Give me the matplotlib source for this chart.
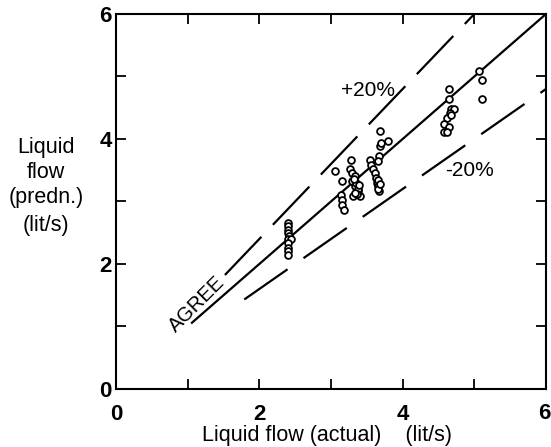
import matplotlib
matplotlib.use('Agg')
import matplotlib.pyplot as plt
import numpy as np

# ── Data: actual vs predicted liquid flow (lit/s) ─────────────────
actual = [
    2.40, 2.40, 2.40, 2.40, 2.42, 2.40, 2.44, 2.40, 2.40, 2.40, 2.40,
    3.06, 3.15, 3.14, 3.16, 3.16, 3.18,
    3.28, 3.27, 3.29, 3.30, 3.34, 3.33, 3.31, 3.40, 3.37, 3.35, 3.32, 3.38,
    3.36, 3.33, 3.39,
    3.55, 3.56, 3.58, 3.61, 3.63, 3.64, 3.66, 3.67, 3.65, 3.68, 3.70, 3.67,
    3.68, 3.79, 3.65, 3.66, 3.68,
    4.64, 4.64, 4.68, 4.72, 4.66, 4.62, 4.58, 4.65, 4.57, 4.62, 4.68,
    5.07, 5.11, 5.11,
]
predicted = [
    2.65, 2.60, 2.55, 2.50, 2.45, 2.40, 2.40, 2.33, 2.25, 2.20, 2.15,
    3.49, 3.32, 3.10, 3.02, 2.94, 2.86,
    3.66, 3.52, 3.32, 3.45, 3.40, 3.24, 3.08, 3.08, 3.16, 3.30, 3.36, 3.20,
    3.12, 3.14, 3.26,
    3.66, 3.58, 3.52, 3.45, 3.38, 3.30, 3.24, 3.16, 3.20, 3.88, 3.93, 3.72,
    4.12, 3.96, 3.64, 3.34, 3.28,
    4.80, 4.64, 4.48, 4.48, 4.42, 4.34, 4.24, 4.19, 4.11, 4.11, 4.38,
    5.08, 4.94, 4.64,
]

# reference lines: x extent of each
agree_x = [1.06, 6.0]
plus_x = [1.52, 5.0]
minus_x = [1.79, 6.0]

ticks_major = [0, 2, 4, 6]
tick_labels = ['0', '2', '4', '']
ticks_minor = [1, 3, 5]

ylabel_lines = ['Liquid', 'flow', '(predn.)', '(lit/s)']

# ── Figure ────────────────────────────────────────────────────────
plt.rcParams['font.family'] = ['Liberation Sans', 'DejaVu Sans']
plt.rcParams['lines.scale_dashes'] = False

fig = plt.figure(figsize=(5.51, 4.47), dpi=100)
ax = fig.add_axes([0.2105, 0.1298, 0.7804, 0.8389])

ax.plot(agree_x, agree_x, color='black', lw=1.6, zorder=2)
ax.plot(plus_x, [1.2 * v for v in plus_x], color='black', lw=1.6,
        dashes=(38, 12), zorder=2)
ax.plot(minus_x, [0.8 * v for v in minus_x], color='black', lw=1.6,
        dashes=(38, 14), zorder=2)

ax.scatter(actual, predicted, s=24, facecolors='white', edgecolors='black',
           linewidths=1.3, zorder=3)

ax.text(3.51, 4.78, '+20%', fontsize=15, ha='center', va='center')
ax.text(4.93, 3.49, '-20%', fontsize=15, ha='center', va='center')
ax.text(1.13, 1.36, 'AGREE', fontsize=14.5, ha='center', va='center',
        rotation=45)

ax.set_xlim(0, 6)
ax.set_ylim(0, 6)
ax.set_xticks(ticks_major)
ax.set_xticklabels(tick_labels, fontsize=16, fontweight='bold')
ax.set_yticks(ticks_major)
ax.set_yticklabels([str(t) for t in ticks_major], fontsize=16,
                   fontweight='bold')
ax.set_xticks(ticks_minor, minor=True)
ax.set_yticks(ticks_minor, minor=True)
ax.tick_params(which='both', direction='in', length=7, width=1.3,
               top=True, right=True)
ax.tick_params(axis='x', pad=11)
ax.tick_params(axis='y', pad=3)
# last x label sits at the very edge, nudge it inside
ax.annotate('6', (6, 0), xytext=(-1.5, -17.5), textcoords='offset points',
            ha='center', va='center', fontsize=16, fontweight='bold',
            annotation_clip=False)
for sp in ax.spines.values():
    sp.set_linewidth(1.5)

fig.text(0.593, 1 - 436 / 447, 'Liquid flow (actual)    (lit/s)',
         fontsize=15.5, ha='center', va='center')
for txt, ypx in zip(ylabel_lines, [147, 172, 198, 225]):
    fig.text(0.084, 1 - ypx / 447, txt, fontsize=15.5, ha='center',
             va='center')

fig.savefig('out.png', dpi=100, facecolor='white')
